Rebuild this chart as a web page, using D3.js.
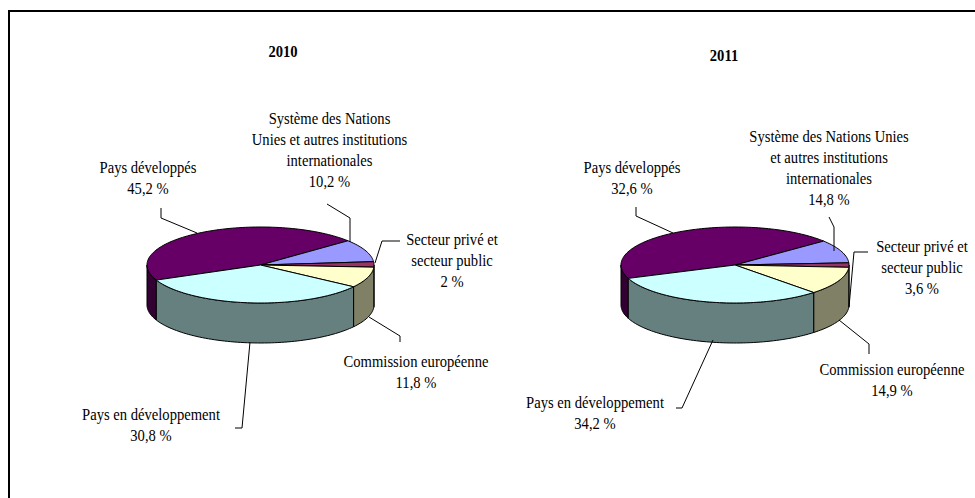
<!DOCTYPE html>
<html>
<head>
<meta charset="utf-8">
<script src="https://d3js.org/d3.v7.min.js"></script>
<style>
  html, body { margin: 0; padding: 0; background: #fff; }
  text { font-family: "Liberation Serif", serif; fill: #000; }
</style>
</head>
<body>
<div class="chart"></div>
<script>
// Two 3D pies side by side, 2010 and 2011

var categories = ["Pays développés", "Système des Nations Unies", "Secteur privé", "Commission européenne", "Pays en développement"];

// share of each slice as drawn in the picture (%). The 2011 slices do not follow their printed labels.
var drawn2010 = [45.5, 9.6, 2.3, 8.8, 33.8];
var drawn2011 = [44.9, 9.9, 1.9, 11.9, 31.4];

// values as printed next to the pies
var printed2010 = ["45,2 %", "10,2 %", "2 %", "11,8 %", "30,8 %"];
var printed2011 = ["32,6 %", "14,8 %", "3,6 %", "14,9 %", "34,2 %"];

var topColors = ["#660066", "#9999ff", "#993366", "#ffffcc", "#ccffff"];
var sideColors = ["#330033", "#4c4c80", "#4d1a33", "#808066", "#668080"];

var svgWidth = 975;
var svgHeight = 498;

var svg = d3.select(".chart")
    .append("svg")
    .attr("width", svgWidth)
    .attr("height", svgHeight)
    .style("display", "block");

// frame, only top and left sides are in the picture
svg.append("path")
    .attr("d", "M9,498V11H975")
    .attr("fill", "none")
    .attr("stroke", "#000")
    .attr("stroke-width", 2);

var charts = [
    {
        title: "2010", titleX: 283, titleY: 57,
        drawn: drawn2010, printed: printed2010,
        cx: 260.5, cy: 265, rx: 113.5, startDeg: 246.6,
        labels: [
            { x: 148, y: 173, lines: ["Pays développés"] },
            { x: 329.5, y: 124, lines: ["Système des Nations", "Unies et autres institutions", "internationales"] },
            { x: 452, y: 245, lines: ["Secteur privé et", "secteur public"] },
            { x: 416, y: 367, lines: ["Commission européenne"] },
            { x: 151, y: 420, lines: ["Pays en développement"] }
        ],
        leaders: [
            [[161, 208], [161, 218], [197, 233]],
            [[327, 204], [350, 218], [350, 242]],
            [[400, 241], [382, 241], [375, 263]],
            [[369, 317], [400, 336], [400, 342]],
            [[250, 342], [242, 428], [235, 428]]
        ]
    },
    {
        title: "2011", titleX: 724, titleY: 61,
        drawn: drawn2011, printed: printed2011,
        cx: 735, cy: 265, rx: 114, startDeg: 249.4,
        labels: [
            { x: 632, y: 173, lines: ["Pays développés"] },
            { x: 829, y: 142, lines: ["Système des Nations Unies", "et autres institutions", "internationales"] },
            { x: 922, y: 252, lines: ["Secteur privé et", "secteur public"] },
            { x: 892, y: 375, lines: ["Commission européenne"] },
            { x: 595, y: 408, lines: ["Pays en développement"] }
        ],
        leaders: [
            [[636, 207], [636, 216], [673, 233]],
            [[829, 217], [834, 227], [834, 251]],
            [[868, 252], [854, 252], [849, 307]],
            [[839, 320], [869, 344], [869, 354]],
            [[713, 340], [682, 408], [676, 408]]
        ]
    }
];

var ry = 38;
var depth = 40;
var lineGap = 21;
var fontSize = 17;
var squeeze = 0.86;

charts.forEach(drawChart);

function drawChart(chart) {

    var g = svg.append("g");

    // unit circle to pixels
    var xScale = d3.scaleLinear().domain([-1, 1]).range([chart.cx - chart.rx, chart.cx + chart.rx]);
    var yScale = d3.scaleLinear().domain([-1, 1]).range([chart.cy - ry, chart.cy + ry]);

    var start = chart.startDeg * Math.PI / 180;

    var pie = d3.pie()
        .sort(null)
        .startAngle(start)
        .endAngle(start + 2 * Math.PI);

    var slices = pie(chart.drawn);

    var px = function(a) { return xScale(Math.sin(a)); };
    var py = function(a) { return yScale(-Math.cos(a)); };

    var arcPoints = function(a0, a1) {
        var n = Math.max(2, Math.ceil((a1 - a0) / 0.03));
        return d3.range(n + 1).map(function(i) {
            return a0 + (a1 - a0) * i / n;
        });
    };

    // walls, only the part of each slice facing the viewer (90 to 270 degrees)
    slices.forEach(function(s, i) {
        [0, 2 * Math.PI].forEach(function(turn) {
            var a0 = Math.max(s.startAngle, Math.PI / 2 + turn);
            var a1 = Math.min(s.endAngle, 3 * Math.PI / 2 + turn);
            if (a1 <= a0) return;
            var angles = arcPoints(a0, a1);
            var upper = angles.map(function(a) { return [px(a), py(a)]; });
            var lower = angles.slice().reverse().map(function(a) { return [px(a), py(a) + depth]; });
            g.append("path")
                .attr("d", d3.line()(upper.concat(lower)) + "Z")
                .attr("fill", sideColors[i])
                .attr("stroke", "#000")
                .attr("stroke-width", 1);
        });
    });

    // top faces
    slices.forEach(function(s, i) {
        var pts = arcPoints(s.startAngle, s.endAngle).map(function(a) { return [px(a), py(a)]; });
        pts.unshift([xScale(0), yScale(0)]);
        g.append("path")
            .attr("d", d3.line()(pts) + "Z")
            .attr("fill", topColors[i])
            .attr("stroke", "#000")
            .attr("stroke-width", 1);
    });

    // leader lines
    chart.leaders.forEach(function(l) {
        g.append("path")
            .attr("d", d3.line()(l))
            .attr("fill", "none")
            .attr("stroke", "#000")
            .attr("stroke-width", 1);
    });

    // year
    g.append("text")
        .attr("transform", "translate(" + chart.titleX + "," + chart.titleY + ") scale(" + squeeze + ",1)")
        .attr("text-anchor", "middle")
        .attr("font-size", fontSize)
        .attr("font-weight", "bold")
        .text(chart.title);

    // slice labels, printed value goes on the last line
    chart.labels.forEach(function(label, i) {
        label.lines.concat([chart.printed[i]]).forEach(function(line, j) {
            g.append("text")
                .attr("transform", "translate(" + label.x + "," + (label.y + j * lineGap) + ") scale(" + squeeze + ",1)")
                .attr("text-anchor", "middle")
                .attr("font-size", fontSize)
                .text(line);
        });
    });
}
</script>
</body>
</html>
